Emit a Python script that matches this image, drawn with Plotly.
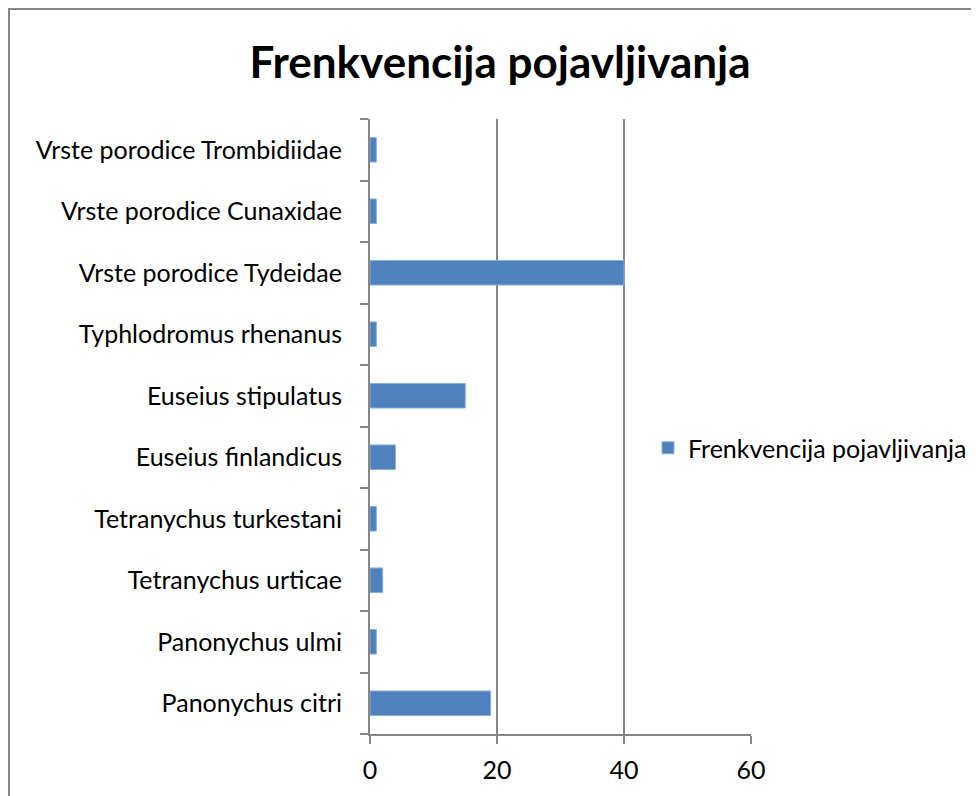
import plotly.graph_objects as go

categories = [
    "Panonychus citri",
    "Panonychus ulmi",
    "Tetranychus urticae",
    "Tetranychus turkestani",
    "Euseius finlandicus",
    "Euseius stipulatus",
    "Typhlodromus rhenanus",
    "Vrste porodice Tydeidae",
    "Vrste porodice Cunaxidae",
    "Vrste porodice Trombidiidae",
]
values = [19, 1, 2, 1, 4, 15, 1, 40, 1, 1]
x_ticks = [0, 20, 40, 60]
series_name = "Frenkvencija pojavljivanja"
title_text = "Frenkvencija pojavljivanja"

# page body adds an 8px offset; work in page pixel coordinates
OFF = 8
W, H = 979, 796
L, R, T, B = 370 - OFF, 979 - (751 - OFF), 119 - OFF, 796 - (734 - OFF)
pw, ph = W - L - R, H - T - B

def px_x(p):
    return (p - OFF - L) / pw

def px_y(p):
    return (H - B - (p - OFF)) / ph

grey = "#868686"
font = "Lato, 'Open Sans', sans-serif"

fig = go.Figure()
fig.add_trace(go.Bar(
    x=values, y=categories, orientation="h", name=series_name,
    marker=dict(color="#4F81BD", line=dict(color="#8DB0DB", width=1)),
    showlegend=True,
))

fig.update_layout(
    width=W, height=H,
    margin=dict(l=L, r=R, t=T, b=B, autoexpand=False),
    paper_bgcolor="white", plot_bgcolor="white",
    bargap=0.6,
    font=dict(family=font, size=25, color="black"),
    title=dict(text="<b>" + title_text + "</b>", x=(500 - OFF) / W, xanchor="center",
               y=1 - (63 - OFF) / H, yanchor="middle", yref="container",
               font=dict(family=font, size=44, color="black")),
    showlegend=True,
    legend=dict(x=px_x(648), xanchor="left", y=px_y(448), yanchor="middle",
                font=dict(family=font, size=25, color="black"),
                bgcolor="rgba(0,0,0,0)", borderwidth=0),
    xaxis=dict(range=[0, 60], tickvals=x_ticks, ticktext=[str(v) for v in x_ticks],
               showgrid=True, gridcolor=grey, gridwidth=2,
               showline=True, linecolor=grey, linewidth=2,
               ticks="outside", ticklen=8, tickwidth=2, tickcolor=grey,
               zeroline=False, fixedrange=True, ticklabelstandoff=5,
               tickfont=dict(size=25)),
    yaxis=dict(type="category", categoryorder="array", categoryarray=categories,
               showgrid=False, showline=True, linecolor=grey, linewidth=2,
               ticks="outside", ticklen=8, tickwidth=2, tickcolor=grey,
               tickson="boundaries", zeroline=False,
               ticklabelstandoff=21,
               tickfont=dict(size=25)),
    shapes=[dict(type="rect", xref="paper", yref="paper",
                 x0=px_x(OFF + 1), x1=px_x(1010), y0=px_y(830), y1=px_y(9),
                 line=dict(color=grey, width=2), fillcolor="rgba(0,0,0,0)",
                 layer="below")],
)

fig.write_html("out.html")
